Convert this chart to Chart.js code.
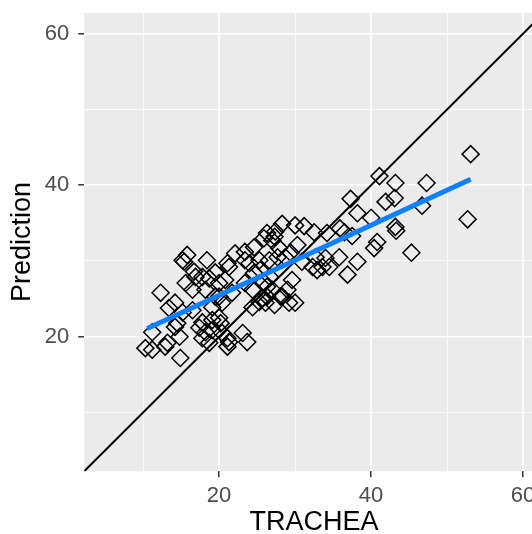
<!DOCTYPE html>
<html>
<head>
<meta charset="utf-8">
<script src="https://cdn.jsdelivr.net/npm/chart.js@4"></script>
<style>
    body { margin: 0; background: #fff; }
    .wrap { width: 532px; height: 534px; overflow: hidden; }
</style>
</head>
<body>
<div class="wrap">
    <canvas id="myChart" width="544" height="550"></canvas>
</div>
<script>
//Observed vs predicted values
const trachea = [53.1, 52.7, 47.3, 46.7, 45.3, 43.2, 43.1, 43.2, 43.3, 41.1, 41.9, 37.3, 38.2, 40.0,
    40.8, 40.4, 35.8, 38.2, 36.9, 34.2, 35.9, 36.5, 37.5, 34.0, 34.5, 28.3, 30.0, 31.2, 32.5, 27.4,
    27.3, 26.3, 27.9, 27.7, 26.6, 29.4, 32.3, 32.9, 33.6, 29.6, 29.0, 30.0, 29.2, 27.3, 26.1, 26.3,
    28.1, 25.9, 24.6, 23.4, 22.1, 21.1, 19.5, 18.7, 18.4, 18.2, 24.0, 24.6, 25.4, 26.7, 25.9, 27.0,
    26.3, 25.3, 24.4, 19.1, 20.0, 20.4, 21.1, 21.1, 23.1, 23.7, 18.7, 15.8, 15.4, 16.7, 12.3, 15.6,
    16.5, 14.2, 13.4, 15.2, 14.2, 11.2, 14.8, 17.8, 17.4, 19.1, 20.2, 17.8, 10.3, 11.2, 12.9, 14.9,
    16.5, 19.1, 20.0, 20.0, 17.8, 20.8, 16.9, 21.3, 23.4, 25.3, 28.7, 32.7, 28.3, 25.7, 24.4, 23.4,
    21.7, 20.4, 18.2, 21.3, 19.5, 13.2, 14.5, 15.2, 27.0, 30.3, 30.9];
const prediction = [44.1, 35.5, 40.3, 37.3, 31.1, 40.3, 38.3, 34.5, 34.0, 41.2, 37.8, 38.2, 36.3, 35.7,
    32.5, 31.7, 30.5, 29.9, 28.2, 33.7, 34.3, 33.8, 33.3, 30.4, 29.2, 34.9, 34.7, 34.6, 33.8, 33.9,
    33.2, 33.7, 31.7, 30.5, 30.1, 31.1, 29.2, 28.8, 29.2, 27.5, 26.2, 24.5, 24.5, 24.2, 24.5, 26.6,
    25.3, 33.0, 31.8, 31.2, 31.0, 29.7, 28.5, 27.7, 30.1, 26.2, 29.7, 28.4, 28.8, 27.9, 27.2, 26.2,
    25.3, 24.6, 23.9, 22.2, 22.5, 20.5, 19.8, 18.7, 20.5, 19.3, 19.2, 30.8, 29.9, 28.6, 25.8, 27.1,
    26.2, 24.5, 23.8, 23.2, 21.3, 20.6, 20.0, 21.9, 21.2, 20.9, 21.8, 19.8, 18.5, 18.3, 18.7, 17.2,
    23.5, 23.9, 25.3, 27.1, 27.9, 27.5, 27.9, 29.2, 30.1, 30.1, 30.5, 30.5, 25.3, 25.1, 26.2, 27.1,
    25.8, 24.5, 20.6, 19.3, 25.3, 19.2, 21.8, 30.1, 32.7, 32.1, 29.9];

//Linear fit (ends) and the y = x reference line
const fitX = [10.55, 53.1];
const fitY = [21.1, 40.8];
const refLine = [0, 70];

//Axis ticks
const majorTicks = [20, 40, 60];
const minorTicks = [10, 30, 50];
const axisMin = 2.25;
const axisMax = 62.75;

const points = trachea.map((x, i) => ({ x: x, y: prediction[i] }));
const fitPoints = fitX.map((x, i) => ({ x: x, y: fitY[i] }));
const refPoints = refLine.map(v => ({ x: v, y: v }));
const allTicks = minorTicks.concat(majorTicks).sort((a, b) => a - b);

const isMajor = ctx => ctx.tick && majorTicks.includes(ctx.tick.value);

//Grey panel behind the grid
const panelBg = {
    id: 'panelBg',
    beforeDraw(chart) {
        const { ctx, chartArea: a } = chart;
        ctx.save();
        ctx.fillStyle = '#ebebeb';
        ctx.fillRect(a.left, a.top, a.right - a.left, a.bottom - a.top);
        ctx.restore();
    }
};

const tickFont = { family: 'Liberation Sans, Arial, sans-serif', size: 22 };
const titleFont = { family: 'Liberation Sans, Arial, sans-serif', size: 27 };

function axis(title, titlePadding, labelPadding, fit) {
    return {
        type: 'linear',
        min: axisMin,
        max: axisMax,
        border: { display: false },
        afterBuildTicks: scale => { scale.ticks = allTicks.map(v => ({ value: v })); },
        afterFit: fit,
        grid: {
            color: '#ffffff',
            lineWidth: ctx => isMajor(ctx) ? 1.6 : 0.8,
            tickLength: 6,
            tickWidth: 1.5,
            tickColor: ctx => isMajor(ctx) ? '#333333' : 'rgba(0,0,0,0)'
        },
        ticks: {
            autoSkip: false,
            maxRotation: 0,
            padding: labelPadding,
            color: '#4d4d4d',
            font: tickFont,
            callback: v => majorTicks.includes(v) ? String(v) : ''
        },
        title: {
            display: true,
            text: title,
            color: '#000000',
            font: titleFont,
            padding: titlePadding
        }
    };
}

const ctx = document.getElementById('myChart').getContext('2d');
const myChart = new Chart(ctx, {
    type: 'scatter',
    data: {
        datasets: [{
            data: fitPoints,
            showLine: true,
            borderColor: '#0f80ff',
            borderWidth: 5,
            pointRadius: 0,
            clip: 0
        }, {
            data: refPoints,
            showLine: true,
            borderColor: '#000000',
            borderWidth: 2,
            pointRadius: 0,
            clip: 0
        }, {
            data: points,
            pointStyle: 'rectRot',
            pointRadius: 8.5,
            pointBorderWidth: 1.5,
            pointBorderColor: '#000000',
            pointBackgroundColor: 'rgba(0,0,0,0)'
        }]
    },
    options: {
        responsive: false,
        animation: false,
        layout: { autoPadding: false, padding: { top: 12.8, right: 0, left: 0, bottom: 0 } },
        plugins: { legend: { display: false }, tooltip: { enabled: false } },
        scales: {
            x: axis('TRACHEA', { top: 0, bottom: 11.3 }, 5, scale => {
                scale.height = 78.7;
                scale.paddingLeft = 0;
                scale.paddingRight = 0;
            }),
            y: axis('Prediction', { top: 6.3, bottom: 0 }, 8.9, scale => {
                scale.width = 84.2;
                scale.paddingTop = 0;
                scale.paddingBottom = 0;
            })
        }
    },
    plugins: [panelBg]
});
</script>
</body>
</html>
